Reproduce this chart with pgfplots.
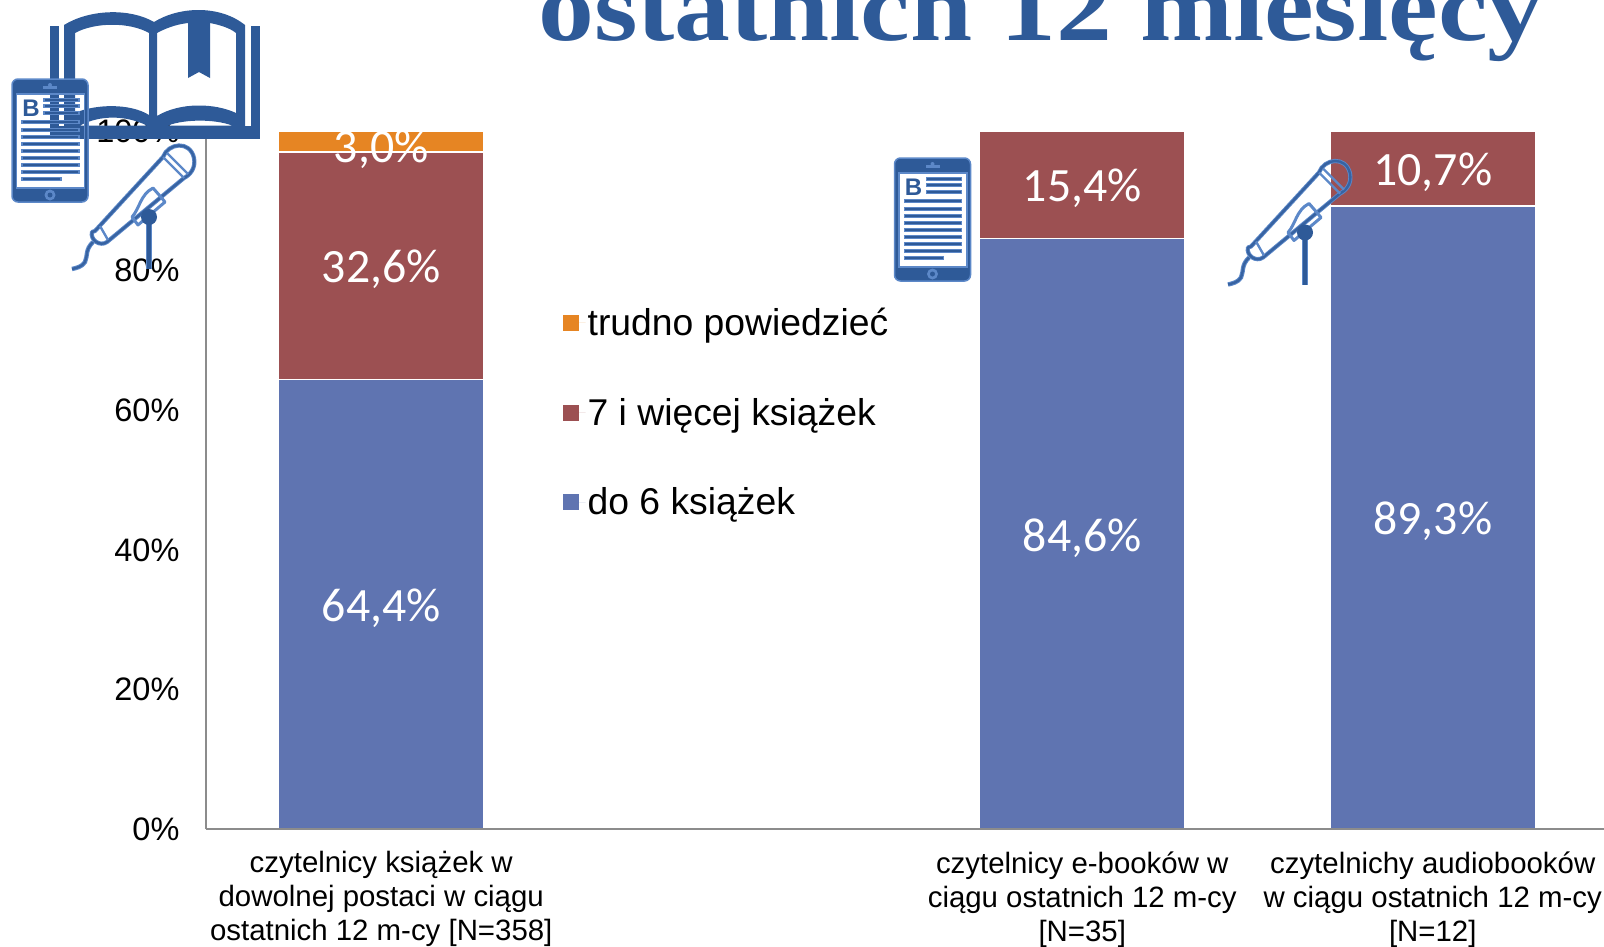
\documentclass[border=0pt]{standalone}
\usepackage{fontspec}
\setmainfont{Liberation Sans}
\newfontfamily\calib{Carlito}
\newfontfamily\titlef{Liberation Serif}
\usepackage{pgfplots}
\usepackage{pgfplotstable}
\pgfplotsset{compat=1.18}
\definecolor{cblue}{HTML}{5F74B1}
\definecolor{cred}{HTML}{9C5052}
\definecolor{corange}{HTML}{E68523}
\definecolor{ttl}{HTML}{2E5A98}
\definecolor{lite}{HTML}{5C88C8}
\definecolor{axc}{HTML}{8C8C8C}
\pgfplotstableread{
x y
0 64.4
2 84.6
3 89.3
}\tsix
\pgfplotstableread{
x y
0 32.6
2 15.4
3 10.7
}\tseven
\pgfplotstableread{
x y
0 3.0
}\thard
\newcommand{\tablet}[2]{%
\begin{scope}[shift={(#1,#2)},x=1pt,y=-1pt]
\path[fill=ttl,even odd rule] [rounded corners=6pt] (0,0) rectangle (76,123) [sharp corners] (4.5,15) rectangle (72.5,109);
\draw[lite,line width=1.5pt,rounded corners=6pt] (0,0) rectangle (76,123);
\draw[lite,line width=1.5pt] (4.5,15) rectangle (72.5,109);
\fill[lite] (31,7) rectangle (45,10);
\fill[lite] (38,6) circle[radius=2pt];
\fill[lite] (38,116) circle[radius=5.5pt];
\fill[ttl] (38,116) circle[radius=2.5pt];
\node[anchor=center,text=ttl,font=\bfseries\fontsize{24}{24}\selectfont,inner sep=0pt] at (19,29.5) {B};
\foreach \yy in {21,27,34}{\fill[ttl,draw=lite,line width=1.2pt] (32,\yy-1.5) rectangle (67,\yy+1.5);}
\foreach \yy in {43,51,58,65,72,79,86,93}{\fill[ttl,draw=lite,line width=1.2pt] (10,\yy-1.5) rectangle (67,\yy+1.5);}
\fill[ttl,draw=lite,line width=1.2pt] (10,100-1.5) rectangle (49,100+1.5);
\end{scope}}
\newcommand{\mic}[2]{%
\begin{scope}[shift={(#1,#2)},x=1pt,y=-1pt]
\draw[lite,line width=4.2pt,line join=round] (95,231) -- (163,157) .. controls (168,143) and (190,140) .. (194,158) .. controls (196,168) and (190,175) .. (184,178) -- (107,242) .. controls (100,247) and (90,240) .. (92,232) -- cycle;
\draw[ttl!80!lite,line width=2.4pt,line join=round] (95,231) -- (163,157) .. controls (168,143) and (190,140) .. (194,158) .. controls (196,168) and (190,175) .. (184,178) -- (107,242) .. controls (100,247) and (90,240) .. (92,232) -- cycle;
\draw[lite,line width=2.4pt] (163,157) -- (184,178) (167,153) -- (188,174);
\draw[lite,line width=2.4pt] (100,226) -- (108,240);
\draw[lite,line width=3pt,line join=round] (132,217) .. controls (140,208) and (140,195) .. (153,188) -- (160,196) -- (165,202) -- (138,225) -- cycle;
\draw[lite,line width=4.4pt] (93,242) .. controls (85,250) and (88,255) .. (85,262) .. controls (82,267) and (76,268) .. (72,269);
\draw[ttl!80!lite,line width=2.4pt] (93,242) .. controls (85,250) and (88,255) .. (85,262) .. controls (82,267) and (76,268) .. (72,269);
\draw[lite,line width=6.5pt] (149,217) -- (149,269);
\draw[ttl,line width=3.5pt] (149,217) -- (149,269);
\fill[ttl] (149,217) circle[radius=8pt];
\end{scope}}
\begin{document}
\begin{tikzpicture}[x=1pt,y=1pt]
\begin{axis}[
 at={(206pt,-829pt)},anchor=south west,
 scale only axis,width=1402pt,height=698pt,
 ybar stacked,bar width=206pt,
 xmin=-0.5,xmax=3.5,ymin=0,ymax=100,
 clip=false,axis on top,
 axis x line*=bottom,axis y line*=left,
 axis line style={axc,line width=2.4pt,-},
 xtick={0,2,3},
 xticklabels={{czytelnicy książek w\\dowolnej postaci w ciągu\\ostatnich 12 m-cy [N=358]},{czytelnicy e-booków w\\ciągu ostatnich 12 m-cy\\{[N=35]}},{czytelnichy audiobooków\\w ciągu ostatnich 12 m-cy\\{[N=12]}}},
 xticklabel style={align=center,font=\fontsize{29.4}{34}\selectfont,text=black,yshift=-19pt},
 ytick={0,20,40,60,80,100},
 yticklabels={0\%,20\%,40\%,60\%,80\%,100\%},
 yticklabel style={font=\fontsize{32.5}{34}\selectfont,text=black,xshift=-23pt},
 major tick length=0pt,
 legend style={at={(0.2546,0.749)},anchor=north west,draw=none,fill=none,font=\fontsize{37.3}{40}\selectfont,row sep=57pt,inner sep=0pt,legend cell align=left},
 legend image code/.code={\fill[#1,draw=none] (0pt,-8pt) rectangle (16pt,8pt);\path[draw=none] (0pt,0pt) -- (22.5pt,0pt);},
 reverse legend,
 visualization depends on={rawy \as \rawv},
 nodes near coords={\pgfmathprintnumber[fixed,fixed zerofill,precision=1,use comma,assume math mode=true]{\rawv}\%},
 every node near coord/.append style={anchor=center,text=white,font=\calib\fontsize{47.8}{47.8}\selectfont,yshift=-4pt},
]
\addplot[fill=cblue,draw=white,line width=1.8pt] table[x=x,y=y] {\tsix};
\addplot[fill=cred,draw=white,line width=1.8pt] table[x=x,y=y] {\tseven};
\addplot[fill=corange,draw=white,line width=1.8pt,every node near coord/.append style={yshift=-4pt}] table[x=x,y=y] {\thard};
\legend{do 6 książek,7 i więcej książek,trudno powiedzieć}
\end{axis}
\node[anchor=base west,text=ttl,inner sep=0pt,font=\titlef\bfseries\fontsize{98}{98}\selectfont] at (538pt,-40pt) {\scalebox{1.14}[1]{ostatnich 12 miesięcy}};
% book
\begin{scope}[x=1pt,y=-1pt]
\fill[ttl] (50,26) rectangle (58.5,139);
\fill[ttl] (251,26) rectangle (260,139);
\fill[ttl] (50,125.5) rectangle (260,139);
\fill[ttl,even odd rule] (64,25) .. controls (90,9) and (130,8) .. (154,22) .. controls (180,6) and (220,5) .. (245,25) -- (245,127) -- (64,127) -- cycle
 (75,33) .. controls (95,22) and (130,22) .. (149,33) -- (149,115) .. controls (130,103) and (95,104) .. (75,113) -- cycle
 (157,33) .. controls (170,26) and (180,24) .. (188,23) -- (188,78) -- (199,72) -- (210,78) -- (210,23) .. controls (220,25) and (230,28) .. (236,33) -- (236,113) .. controls (215,103) and (180,102) .. (157,116) -- cycle
 (80,125.5) .. controls (100,115) and (125,115) .. (147,125.5) -- cycle
 (168,125.5) .. controls (185,119) and (215,119) .. (232,125.5) -- cycle;
\end{scope}
\tablet{12pt}{-79pt}
\tablet{894.5pt}{-158pt}
\mic{0pt}{0pt}
\mic{1156pt}{-15.5pt}
\pgfresetboundingbox
\path[use as bounding box] (0pt,0pt) rectangle (1604pt,-946pt);
\end{tikzpicture}
\end{document}
